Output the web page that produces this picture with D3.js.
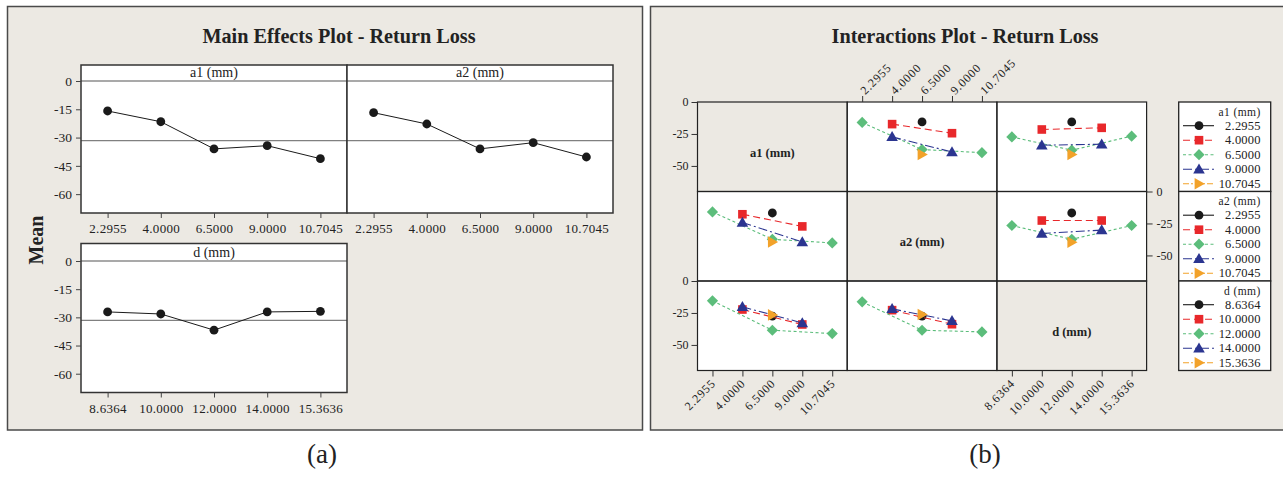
<!DOCTYPE html>
<html><head><meta charset="utf-8">
<script src="https://cdn.jsdelivr.net/npm/d3@7"></script>
<style>body{margin:0;background:#fff}svg{display:block}text{font-family:"Liberation Serif","Times New Roman",serif;fill:#222}</style>
</head><body><svg id="c" width="1283" height="479"></svg>
<script>
// ---------- DATA ----------
const a1Levels = ["2.2955","4.0000","6.5000","9.0000","10.7045"];
const a2Levels = ["2.2955","4.0000","6.5000","9.0000","10.7045"];
const dLevels  = ["8.6364","10.0000","12.0000","14.0000","15.3636"];
const yTicksMain = [0,-15,-30,-45,-60];
const yTicksInt = [0,-25,-50];
// main effects means
const meanA1 = [-15.9,-21.6,-36.0,-34.3,-41.2];
const meanA2 = [-16.8,-22.8,-36.0,-32.7,-40.3];
const meanD  = [-27.1,-28.2,-36.8,-27.1,-26.8];
const grandMean = -31.6;
// interaction means: rows = series level (row factor), cols = x level (column factor)
const a1ByA2 = [[null,null,-15.6,null,null],[null,-17.3,null,-24.4,null],[-16.0,null,-37.2,null,-39.6],[null,-27.3,null,-39.1,null],[null,null,-41.1,null,null]];
const a1ByD  = [[null,null,-15.6,null,null],[null,-21.5,null,-20.2,null],[-27.3,null,-37.7,null,-26.7],[null,-33.8,null,-33.0,null],[null,null,-41.1,null,null]];
const a2ByA1 = [[null,null,-16.8,null,null],[null,-17.8,null,-27.3,null],[-16.0,null,-37.4,null,-40.2],[null,-24.2,null,-39.5,null],[null,null,-39.5,null,null]];
const a2ByD  = [[null,null,-16.8,null,null],[null,-22.7,null,-22.7,null],[-26.6,null,-37.4,null,-26.6],[null,-32.8,null,-30.2,null],[null,null,-39.7,null,null]];
const dByA1  = [[null,null,-27.5,null,null],[null,-22.3,null,-34.0,null],[-15.5,null,-38.5,null,-41.1],[null,-20.2,null,-32.8,null],[null,null,-26.5,null,null]];
const dByA2  = [[null,null,-27.5,null,null],[null,-22.8,null,-33.8,null],[-16.3,null,-38.5,null,-39.8],[null,-21.8,null,-31.2,null],[null,null,-26.2,null,null]];
const factorNames = ["a1 (mm)","a2 (mm)","d (mm)"];

// ---------- STYLES ----------
const BG = "#ece9e3";
const colors = ["#1a1a1a","#e8282b","#5cbd7b","#2b3590","#f2a22a"];
const dashes = [null,"7,4","3,2.5","9,3,2,3","6,2,2,2"];

const svg = d3.select("#c");

function marker(g, type, x, y, color){
  if(type===0) g.append("circle").attr("cx",x).attr("cy",y).attr("r",4.4).attr("fill",color);
  else if(type===1) g.append("rect").attr("x",x-4.3).attr("y",y-4.3).attr("width",8.6).attr("height",8.6).attr("fill",color);
  else {
    let p;
    if(type===2) p=[[0,-5.6],[5.6,0],[0,5.6],[-5.6,0]];
    else if(type===3) p=[[0,-5.8],[5.8,4.2],[-5.8,4.2]];
    else p=[[-4.4,-5.8],[5.8,0],[-4.4,5.8]];
    g.append("path").attr("d","M"+p.map(q=>(x+q[0])+","+(y+q[1])).join("L")+"Z").attr("fill",color);
  }
}

// ---------- FRAMES ----------
svg.append("rect").attr("x",7.5).attr("y",6.5).attr("width",635).attr("height",423.5).attr("fill",BG).attr("stroke","#4a4a4a").attr("stroke-width",1.5);
svg.append("rect").attr("x",650.5).attr("y",6.5).attr("width",650).attr("height",423.5).attr("fill",BG).attr("stroke","#4a4a4a").attr("stroke-width",1.5);

svg.append("text").attr("x",339).attr("y",43).attr("text-anchor","middle").style("font-size","20.2px").style("font-weight","bold").text("Main Effects Plot - Return Loss");
svg.append("text").attr("x",965).attr("y",43).attr("text-anchor","middle").style("font-size","20.2px").style("font-weight","bold").text("Interactions Plot - Return Loss");
svg.append("text").attr("transform","translate(43,240) rotate(-90)").attr("text-anchor","middle").style("font-size","20px").style("font-weight","bold").text("Mean");
svg.append("text").attr("x",322).attr("y",463).attr("text-anchor","middle").style("font-size","27px").text("(a)");
svg.append("text").attr("x",985).attr("y",463).attr("text-anchor","middle").style("font-size","27px").text("(b)");

// ---------- MAIN EFFECTS ----------
function mainPanel(x0,x1,top,hdr,bottom,label,cats,vals,showY){
  const g = svg.append("g");
  const x = d3.scalePoint().domain(cats).range([x0,x1]).padding(0.5);
  const y = d3.scaleLinear().domain([-70,0]).range([bottom,hdr]);
  g.append("rect").attr("x",x0).attr("y",top).attr("width",x1-x0).attr("height",bottom-top).attr("fill","#fff");
  g.append("line").attr("x1",x0).attr("x2",x1).attr("y1",hdr).attr("y2",hdr).attr("stroke","#555").attr("stroke-width",1.2);
  g.append("text").attr("x",(x0+x1)/2).attr("y",hdr-4).attr("text-anchor","middle").style("font-size","14px").text(label);
  g.append("line").attr("x1",x0).attr("x2",x1).attr("y1",y(grandMean)).attr("y2",y(grandMean)).attr("stroke","#808080").attr("stroke-width",1.3);
  const pts = cats.map((c,i)=>[x(c),y(vals[i])]);
  g.append("path").attr("d",d3.line()(pts)).attr("fill","none").attr("stroke","#1a1a1a").attr("stroke-width",1);
  pts.forEach(p=>marker(g,0,p[0],p[1],"#1a1a1a"));
  g.append("rect").attr("x",x0).attr("y",top).attr("width",x1-x0).attr("height",bottom-top).attr("fill","none").attr("stroke","#333").attr("stroke-width",1.5);
  const ax = g.append("g").attr("transform",`translate(0,${bottom})`).call(d3.axisBottom(x).tickSize(5).tickPadding(6));
  ax.select(".domain").remove();
  ax.selectAll("text").style("font-size","13px").style("font-family","Liberation Serif").attr("fill","#333").style("letter-spacing","0.3px");
  ax.selectAll("line").attr("stroke","#444");
  if(showY){
    const ay = g.append("g").attr("transform",`translate(${x0},0)`).call(d3.axisLeft(y).tickValues(yTicksMain).tickFormat(d=>String(d)).tickSize(5).tickPadding(4));
    ay.select(".domain").remove();
    ay.selectAll("text").style("font-size","13.5px").style("font-family","Liberation Serif").attr("fill","#333");
    ay.selectAll("line").attr("stroke","#444");
  }
}
mainPanel(81,347,65,81,213,"a1 (mm)",a1Levels,meanA1,true);
mainPanel(347,613,65,81,213,"a2 (mm)",a2Levels,meanA2,false);
mainPanel(81,347,243.5,261,392.5,"d (mm)",dLevels,meanD,true);

// ---------- INTERACTIONS ----------
const levelsOf = [a1Levels,a2Levels,dLevels];
const cellData = {"0-1":a1ByA2,"0-2":a1ByD,"1-0":a2ByA1,"1-2":a2ByD,"2-0":dByA1,"2-1":dByA2};
const gx0 = 697.5, gy0 = 102, cw = 149.7, ch = 89.5;
const ig = svg.append("g");
const xS = c => d3.scalePoint().domain(levelsOf[c]).range([gx0+c*cw, gx0+(c+1)*cw]).padding(0.5);
const yS = r => d3.scaleLinear().domain([-70,0]).range([gy0+(r+1)*ch, gy0+r*ch]);

for(let r=0;r<3;r++) for(let c=0;c<3;c++){
  const cx=gx0+c*cw, cy=gy0+r*ch;
  ig.append("rect").attr("x",cx).attr("y",cy).attr("width",cw).attr("height",ch).attr("fill", r===c?BG:"#fff");
  if(r===c){
    ig.append("text").attr("x",cx+cw/2).attr("y",cy+ch/2+10).attr("text-anchor","middle").style("font-size","12.5px").style("font-weight","bold").text(factorNames[r]);
    continue;
  }
  const data = cellData[r+"-"+c];
  const x = xS(c), y = yS(r);
  const cg = ig.append("g");
  data.forEach((row,s)=>{
    const pts = row.map((v,i)=>v===null?null:[x(levelsOf[c][i]),y(v)]).filter(p=>p);
    if(pts.length>1) cg.append("path").attr("d",d3.line()(pts)).attr("fill","none").attr("stroke",colors[s]).attr("stroke-width",1.1).attr("stroke-dasharray",dashes[s]);
    pts.forEach(p=>marker(cg,s,p[0],p[1],colors[s]));
  });
}
for(let r=0;r<3;r++) for(let c=0;c<3;c++){
  ig.append("rect").attr("x",gx0+c*cw).attr("y",gy0+r*ch).attr("width",cw).attr("height",ch).attr("fill","none").attr("stroke","#222").attr("stroke-width",1.2);
}
function styleAxis(a){
  a.select(".domain").remove();
  a.selectAll("text").style("font-size","12px").style("font-family","Liberation Serif").attr("fill","#333");
  a.selectAll("line").attr("stroke","#333");
}
// left axes rows 0 and 2
[0,2].forEach(r=>{
  const a = ig.append("g").attr("transform",`translate(${gx0},0)`).call(d3.axisLeft(yS(r)).tickValues(yTicksInt).tickFormat(d=>String(d)).tickSize(6).tickPadding(3));
  styleAxis(a);
});
// right axis row 1
{
  const a = ig.append("g").attr("transform",`translate(${gx0+3*cw},0)`).call(d3.axisRight(yS(1)).tickValues(yTicksInt).tickFormat(d=>String(d)).tickSize(6).tickPadding(4));
  styleAxis(a);
}
// top axis column 1
{
  const a = ig.append("g").attr("transform",`translate(0,${gy0})`).call(d3.axisTop(xS(1)).tickSize(6));
  styleAxis(a);
  a.selectAll("text").attr("text-anchor","start").attr("transform","translate(-1,-9) rotate(-45)").attr("x",1).attr("y",0).attr("dy","0.35em").style("letter-spacing","0.8px");
}
// bottom axes columns 0 and 2
[0,2].forEach(c=>{
  const a = ig.append("g").attr("transform",`translate(0,${gy0+3*ch})`).call(d3.axisBottom(xS(c)).tickSize(6));
  styleAxis(a);
  a.selectAll("text").attr("text-anchor","end").attr("transform","translate(1,10) rotate(-45)").attr("x",-1).attr("y",0).attr("dy","0.35em").style("letter-spacing","0.8px");
});

// legend
const lx0 = 1178.7, lx1 = 1270.7;
const lg = svg.append("g");
for(let r=0;r<3;r++){
  const top = gy0 + r*ch;
  lg.append("rect").attr("x",lx0).attr("y",top).attr("width",lx1-lx0).attr("height",ch).attr("fill","#fff").attr("stroke","#222").attr("stroke-width",1.3);
  lg.append("text").attr("x",lx1-10).attr("y",top+13.5).attr("text-anchor","end").style("font-size","11.5px").style("letter-spacing","0.4px").text(factorNames[r].replace(" ","  "));
  levelsOf[r].forEach((lv,s)=>{
    const yy = top + 23.7 + s*14.5;
    lg.append("line").attr("x1",1183).attr("x2",1214).attr("y1",yy).attr("y2",yy).attr("stroke",colors[s]).attr("stroke-width",1.1).attr("stroke-dasharray",dashes[s]);
    marker(lg,s,1199,yy,colors[s]);
    lg.append("text").attr("x",lx1-10).attr("y",yy+4).attr("text-anchor","end").style("font-size","12.5px").style("letter-spacing","0.2px").text(lv);
  });
}
</script></body></html>
